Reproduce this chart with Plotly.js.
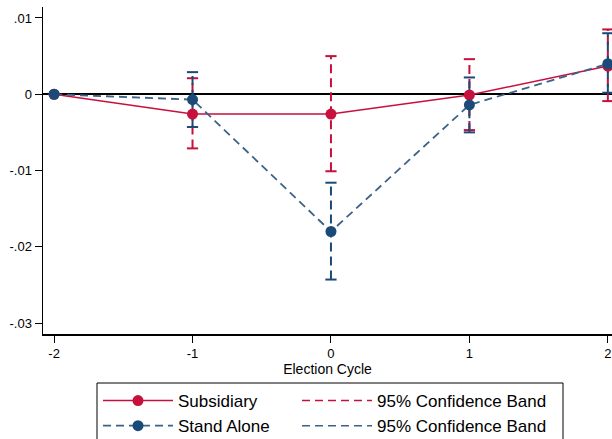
<!DOCTYPE html>
<html>
<head>
<meta charset="utf-8">
<script src="https://cdn.plot.ly/plotly-3.0.1.min.js"></script>
<style>html,body{margin:0;padding:0;background:#fff;}#chart{width:612px;height:439px;}</style>
</head>
<body>
<div id="chart"></div>
<script>
const cycles = [-2, -1, 0, 1, 2];
const subsidiary = [0, -0.0026, -0.0026, -0.0001, 0.0037];
const subLo = [null, -0.0071, -0.0101, -0.0047, -0.0009];
const subHi = [null, 0.0021, 0.0050, 0.0046, 0.0085];
const standAlone = [0, -0.0007, -0.0180, -0.0014, 0.0040];
const saLo = [null, -0.0043, -0.0243, -0.0050, 0.0002];
const saHi = [null, 0.0029, -0.0116, 0.0022, 0.0080];
const xTickVals = [-2, -1, 0, 1, 2];
const xTickText = ['-2', '-1', '0', '1', '2'];
const yTickVals = [0.01, 0, -0.01, -0.02, -0.03];
const yTickText = ['.01', '0', '-.01', '-.02', '-.03'];

const RED = '#c8103e';
const BLUE = '#1b4a78';
const BLUE_LINE = '#3d6287';

function bandSegments(lo, hi) {
  const xs = [], ys = [];
  cycles.forEach((c, i) => {
    if (lo[i] === null) return;
    xs.push(c, c, null);
    ys.push(lo[i], hi[i], null);
  });
  return {x: xs, y: ys};
}
function capPoints(lo, hi) {
  const xs = [], ys = [];
  cycles.forEach((c, i) => {
    if (lo[i] === null) return;
    xs.push(c, c);
    ys.push(lo[i], hi[i]);
  });
  return {x: xs, y: ys};
}

const subBand = bandSegments(subLo, subHi);
const saBand = bandSegments(saLo, saHi);
const subCaps = capPoints(subLo, subHi);
const saCaps = capPoints(saLo, saHi);

const data = [
  {x: subBand.x, y: subBand.y, mode: 'lines', showlegend: false, hoverinfo: 'skip',
   line: {color: RED, width: 2, dash: '9px,5px'}},
  {x: subCaps.x, y: subCaps.y, mode: 'markers', showlegend: false, hoverinfo: 'skip',
   marker: {symbol: 'line-ew', size: 8, line: {color: RED, width: 2}}},
  {x: saBand.x, y: saBand.y, mode: 'lines', showlegend: false, hoverinfo: 'skip',
   line: {color: BLUE, width: 2, dash: '9px,5px'}},
  {x: saCaps.x, y: saCaps.y, mode: 'markers', showlegend: false, hoverinfo: 'skip',
   marker: {symbol: 'line-ew', size: 8, line: {color: BLUE, width: 2}}},
  {x: cycles, y: subsidiary, mode: 'lines+markers', name: 'Subsidiary', legend: 'legend',
   line: {color: RED, width: 1.5}, marker: {color: RED, size: 11}},
  {x: cycles, y: standAlone, mode: 'lines+markers', name: 'Stand Alone', legend: 'legend',
   line: {color: BLUE_LINE, width: 1.8, dash: '8px,5px'}, marker: {color: BLUE, size: 11}},
  {x: [null], y: [null], mode: 'lines', name: '95% Confidence Band', legend: 'legend2',
   line: {color: RED, width: 1.5, dash: '8px,5px'}},
  {x: [null], y: [null], mode: 'lines', name: '95% Confidence Band', legend: 'legend2',
   line: {color: BLUE_LINE, width: 1.5, dash: '8px,5px'}}
];

const legendCommon = {
  orientation: 'v', xref: 'paper', yref: 'container', yanchor: 'top', xanchor: 'left',
  y: 1 - 383 / 439, bgcolor: 'rgba(0,0,0,0)', borderwidth: 0,
  font: {size: 17, color: '#000'}, itemwidth: 70, tracegroupgap: 0, traceorder: 'normal'
};

const layout = {
  width: 612, height: 439,
  margin: {l: 43, r: 0, t: 7, b: 105},
  paper_bgcolor: '#fff', plot_bgcolor: '#fff',
  font: {family: 'Liberation Sans, Arial, sans-serif', color: '#000'},
  showlegend: true,
  xaxis: {
    range: [-2.08, 2.03], tickvals: xTickVals, ticktext: xTickText,
    showgrid: false, zeroline: false, showline: true, linecolor: '#000', linewidth: 1.5,
    ticks: 'outside', ticklen: 7, tickwidth: 1, tickcolor: '#000',
    tickfont: {size: 13},
    title: {text: 'Election Cycle', font: {size: 14}, standoff: 0}
  },
  yaxis: {
    range: [-0.03144, 0.01144], tickvals: yTickVals, ticktext: yTickText,
    showgrid: false, zeroline: true, zerolinecolor: '#000', zerolinewidth: 1.5,
    showline: true, linecolor: '#000', linewidth: 1.5,
    ticks: 'outside', ticklen: 7, tickwidth: 1, tickcolor: '#000',
    tickfont: {size: 13}
  },
  legend: Object.assign({}, legendCommon, {x: (98 - 43) / 569}),
  legend2: Object.assign({}, legendCommon, {x: (297 - 43) / 569}),
  shapes: [{
    type: 'rect', xref: 'paper', yref: 'paper',
    x0: (97 - 43) / 569, x1: (563 - 43) / 569,
    y0: (334 - 383) / 327, y1: (334 - 450) / 327,
    line: {color: '#000', width: 1}, fillcolor: 'rgba(0,0,0,0)', layer: 'above'
  }]
};

Plotly.newPlot('chart', data, layout, {displayModeBar: false, staticPlot: true});
</script>
</body>
</html>
